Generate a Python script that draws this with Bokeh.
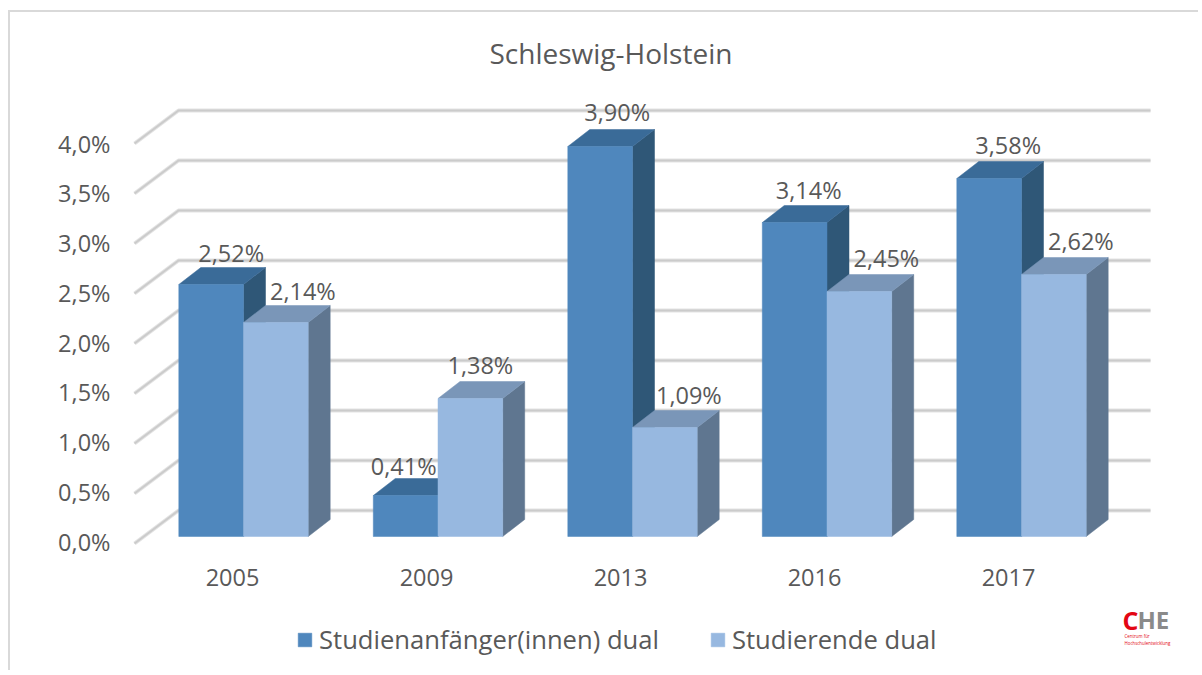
from bokeh.plotting import figure
from bokeh.embed import file_html
from bokeh.resources import INLINE
from bokeh.models import (Range1d, LinearAxis, FixedTicker, Legend, LegendItem, Label)
from bokeh.core.properties import value

# ---- data ----
years = ["2005", "2009", "2013", "2016", "2017"]
anfaenger = [2.52, 0.41, 3.90, 3.14, 3.58]
studierende = [2.14, 1.38, 1.09, 2.45, 2.62]
y_ticks = [0.0, 0.5, 1.0, 1.5, 2.0, 2.5, 3.0, 3.5, 4.0]
y_tick_labels = ["0,0%", "0,5%", "1,0%", "1,5%", "2,0%", "2,5%", "3,0%", "3,5%", "4,0%"]
series_names = ["Studienanfänger(innen) dual", "Studierende dual"]
title_text = "Schleswig-Holstein"

# ---- layout: page pixels ----
FONT = "Open Sans"
TXT = "#595959"
PX_X, PX_Y = 194.5, 100.0           # px per category, px per percent
X0, Y0 = 243.0, 536.0               # page px of category 0 centre / value 0
OX, OY = 10, 12                     # page px of the canvas origin
W, H = 1190, 660
L, R, T, B = 118, OX + W, 85, OY + H   # plot frame in page px
BAR = 64.7 / PX_X
DX, DY = 22 / PX_X, 17 / PX_Y       # bar depth
WALL_DX, WALL_DY = 44 / PX_X, 33 / PX_Y

def xd(px): return (px - X0) / PX_X
def yd(px): return (Y0 - px) / PX_Y

p = figure(width=W, height=H, output_backend="svg", toolbar_location=None,
           x_range=Range1d(xd(L), xd(R)), y_range=Range1d(yd(B), yd(T)),
           min_border_left=L - OX, min_border_right=0, min_border_top=T - OY, min_border_bottom=0,
           x_axis_location=None, y_axis_location=None, outline_line_color=None,
           background_fill_color="white", border_fill_color="white")
p.grid.visible = False
p.margin = (OY - 2, 0, 0, OX - 2)
p.styles = {"border-left": "2px solid #d9d9d9", "border-top": "2px solid #d9d9d9"}

p.title.text = title_text
p.title.text_font = FONT
p.title.text_font_size = "28px"
p.title.text_font_style = "normal"
p.title.text_color = TXT
p.title.align = "left"
p.title.offset = 371
p.title.standoff = 27

p.extra_y_ranges = {"ax": Range1d((541 - B) / 99.5, (541 - T) / 99.5)}
p.extra_x_ranges = {"ax": Range1d((L - 232) / 194.0, (R - 232) / 194.0)}
ya = LinearAxis(y_range_name="ax", ticker=FixedTicker(ticks=y_ticks),
                major_label_overrides=dict(zip(y_ticks, y_tick_labels)))
xa = LinearAxis(x_range_name="ax", ticker=FixedTicker(ticks=list(range(len(years)))),
                major_label_overrides={i: y for i, y in enumerate(years)},
                fixed_location=yd(560))
for a in (ya, xa):
    a.axis_line_color = None
    a.major_tick_line_color = None
    a.minor_tick_line_color = None
    a.major_label_text_font = FONT
    a.major_label_text_color = TXT
ya.major_label_text_font_size = "23.5px"
xa.major_label_text_font_size = "23.5px"
ya.major_label_standoff = 2
xa.major_label_standoff = 2
p.add_layout(ya, "left")
p.add_layout(xa, "below")

# back wall grid
gx, gy = [], []
wall_left = xd(134)
wall_right = xd(1150)
for v in y_ticks:
    front = v + yd(543)
    gx.append([wall_left, wall_left + WALL_DX, wall_right])
    gy.append([front, front + WALL_DY, front + WALL_DY])
p.multi_line(gx, gy, line_color="#e3e3e3", line_width=4)
p.multi_line(gx, gy, line_color="#cbcbcb", line_width=2)

# 3-D bars
def draw_bar(i, val, shift, front, top, side):
    lo, hi = i + shift, i + shift + BAR
    p.patch([hi, hi + DX, hi + DX, hi], [0, DY, val + DY, val], fill_color=side, line_color=side, line_width=0.5)
    p.patch([lo, lo + DX, hi + DX, hi], [val, val + DY, val + DY, val], fill_color=top, line_color=top, line_width=0.5)
    return p.quad(left=[lo], right=[hi], top=[val], bottom=[0], fill_color=front, line_color=front, line_width=0.5)

handles = [None, None]
for i in range(len(years)):
    handles[0] = draw_bar(i, anfaenger[i], -BAR, "#4f87bd", "#3a6b98", "#2f5777")
    handles[1] = draw_bar(i, studierende[i], 0, "#97b8e0", "#7a96b8", "#5f7690")

# data labels (Excel placed them by hand, hence per-label nudges in px)
nudge_x1 = [20, -2, 17, 14, 19]
nudge_x2 = [27, 10, 24, 27, 27]
nudge_y1 = [-32, -30, -35, -33, -34]
nudge_y2 = [-32, -34, -33, -34, -34]
lab = lambda v: f"{v:.2f}%".replace(".", ",")
for vals, shift, nx, ny in ((anfaenger, -BAR / 2, nudge_x1, nudge_y1), (studierende, BAR / 2, nudge_x2, nudge_y2)):
    p.text(x=[i + shift for i in range(len(vals))], y=vals, text=[lab(v) for v in vals],
           x_offset=nx, y_offset=ny, text_font=value(FONT), text_font_size="23.5px",
           text_color=TXT, text_align="center", text_baseline="middle")

# legend (tuple location is measured from the frame's lower left)
leg = Legend(items=[LegendItem(label=series_names[0], renderers=[handles[0]]),
                    LegendItem(label=series_names[1], renderers=[handles[1]])],
             orientation="horizontal", location=(296 - L, B - 657), border_line_color=None,
             background_fill_alpha=0, label_text_font=FONT, label_text_font_size="25.6px",
             label_text_color=TXT, glyph_width=17, glyph_height=17, label_standoff=6,
             spacing=50, padding=0, margin=0)
p.add_layout(leg)

# logo
def lbl(t, x, y, size, color, style="normal"):
    p.add_layout(Label(x=xd(x), y=yd(y), text=t, text_font=FONT,
                       text_font_size=size, text_color=color, text_font_style=style,
                       text_baseline="middle", text_align="left"))
lbl("C", 1122, 619, "25px", "#e30613", "bold")
lbl("HE", 1137, 619, "24px", "#8a8a8a", "bold")
lbl("Centrum für", 1124, 635, "4.4px", "#e30613")
lbl("Hochschulentwicklung", 1124, 642, "4.4px", "#e30613")

open("out.html", "w").write(file_html(p, INLINE))
